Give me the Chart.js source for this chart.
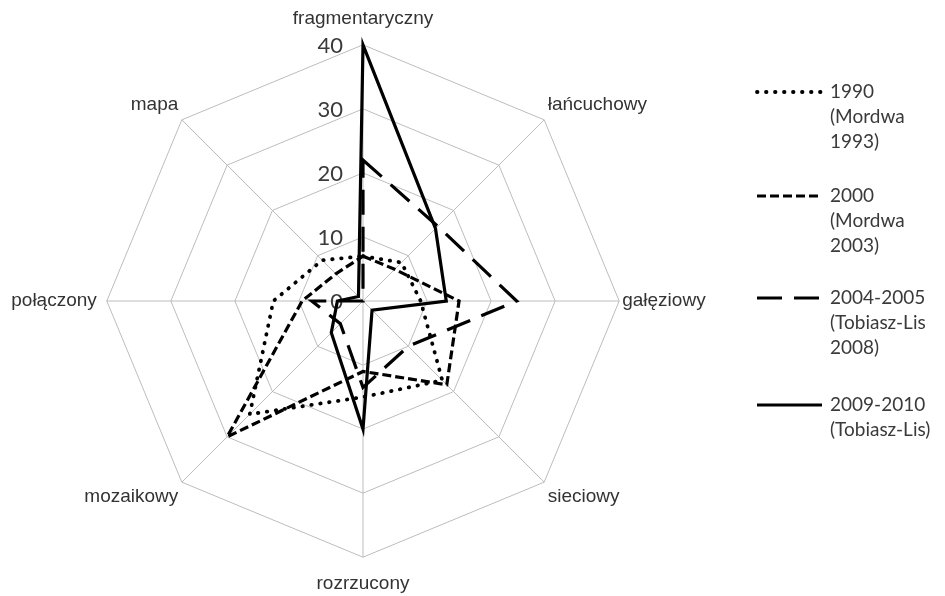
<!DOCTYPE html>
<html>
<head>
<meta charset="utf-8">
<script src="https://cdn.jsdelivr.net/npm/chart.js@4.4.1/dist/chart.umd.min.js"></script>
<style>
  body { margin: 0; background: #fff; }
  canvas { display: block; }
</style>
</head>
<body>
<canvas id="radar" width="945" height="596"></canvas>
<script>
// categories, clockwise from the top
const categories = ['fragmentaryczny', 'łańcuchowy', 'gałęziowy', 'sieciowy', 'rozrzucony', 'mozaikowy', 'połączony', 'mapa'];

// values
const v1990 = [7, 8.5, 9, 17.5, 15, 25, 14, 9];
const v2000 = [7, 7, 15, 18.5, 11, 30, 9.5, 6];
const v2004 = [22, 16.5, 24, 10, 13.5, 5, 8, 0];
const v2009 = [40, 16, 13, 2, 20, 7, 4, 1];

// legend text (one entry per line)
const text1990 = ['1990', '(Mordwa', '1993)'];
const text2000 = ['2000', '(Mordwa', '2003)'];
const text2004 = ['2004-2005', '(Tobiasz-Lis', '2008)'];
const text2009 = ['2009-2010', '(Tobiasz-Lis)'];

const scaleMax = 40;
const scaleStep = 10;

// gap between the outer ring and each category label
const labelPad = [15, 5, 3, 5, 15, 5, 10, 5];
const legendY = [92, 196, 298, 405];

// tick numbers drawn left of the vertical axis (Chart.js skips the 0)
const tickLabels = {
  id: 'tickLabels',
  beforeDatasetsDraw(chart) {
    const r = chart.scales.r;
    const ctx = chart.ctx;
    ctx.save();
    ctx.font = '22px Lato';
    ctx.fillStyle = '#3a3a3a';
    ctx.textAlign = 'right';
    ctx.textBaseline = 'middle';
    r.ticks.forEach(t => {
      const y = r.yCenter - r.getDistanceFromCenterForValue(t.value);
      ctx.fillText(t.label, r.xCenter - 20, y + 1);
    });
    ctx.restore();
  }
};

// legend on the right with multi-line text
const sideLegend = {
  id: 'sideLegend',
  afterDraw(chart) {
    const ctx = chart.ctx;
    chart.data.datasets.forEach((ds, i) => {
      const y = legendY[i];
      ctx.save();
      ctx.strokeStyle = ds.borderColor;
      ctx.lineWidth = ds.borderWidth;
      ctx.lineCap = ds.borderCapStyle;
      ctx.setLineDash(ds.borderDash);
      ctx.beginPath();
      ctx.moveTo(757, y);
      ctx.lineTo(822, y);
      ctx.stroke();
      ctx.setLineDash([]);
      ctx.font = '19px Lato';
      ctx.fillStyle = '#3a3a3a';
      ctx.textBaseline = 'middle';
      ds.legendText.forEach((line, k) => ctx.fillText(line, 830, y + k * 25));
      ctx.restore();
    });
  }
};

function series(label, data, dash, cap, width, text) {
  return {
    label: label,
    data: data,
    borderColor: '#000',
    borderWidth: width,
    borderDash: dash,
    borderCapStyle: cap,
    borderJoinStyle: 'miter',
    fill: false,
    pointRadius: 0,
    tension: 0,
    legendText: text
  };
}

new Chart(document.getElementById('radar'), {
  type: 'radar',
  data: {
    labels: categories,
    datasets: [
      series('1990', v1990, [0.5, 8.5], 'round', 3.8, text1990),
      series('2000', v2000, [9, 4], 'butt', 3.2, text2000),
      series('2004-2005', v2004, [25, 12], 'butt', 3.2, text2004),
      series('2009-2010', v2009, [], 'butt', 3.2, text2009)
    ]
  },
  options: {
    responsive: false,
    animation: false,
    layout: { padding: { left: 0, right: 227, top: 7, bottom: 1 } },
    plugins: { legend: { display: false }, tooltip: { enabled: false } },
    scales: {
      r: {
        min: 0,
        max: scaleMax,
        ticks: { stepSize: scaleStep, display: false },
        grid: { color: '#bdbdbd', lineWidth: 1 },
        angleLines: { color: '#bdbdbd', lineWidth: 1 },
        pointLabels: {
          font: { family: 'Liberation Sans', size: 19 },
          color: '#333',
          padding: ctx => labelPad[ctx.index]
        }
      }
    }
  },
  plugins: [tickLabels, sideLegend]
});
</script>
</body>
</html>
